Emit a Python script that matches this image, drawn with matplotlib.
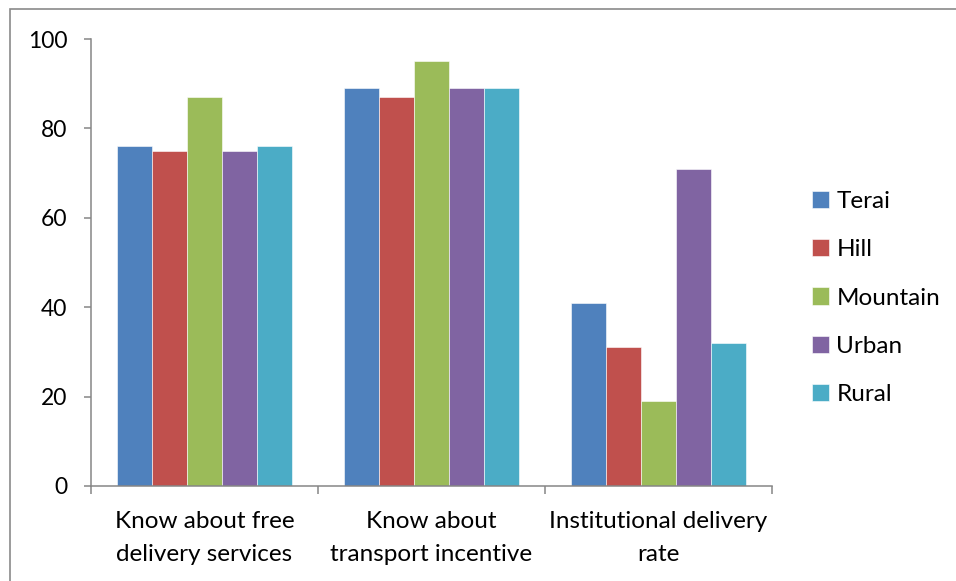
import matplotlib
matplotlib.use("Agg")
import matplotlib.pyplot as plt
from matplotlib.patches import Rectangle
import numpy as np

plt.rcParams["font.family"] = ["Lato", "DejaVu Sans"]

# 数据
categories = ["Know about free\ndelivery services",
              "Know about\ntransport incentive",
              "Institutional delivery\nrate"]
series_names = ["Terai", "Hill", "Mountain", "Urban", "Rural"]
terai = [76, 89, 41]
hill = [75, 87, 31]
mountain = [87, 95, 19]
urban = [75, 89, 71]
rural = [76, 89, 32]
y_ticks = [0, 20, 40, 60, 80, 100]

series_values = [terai, hill, mountain, urban, rural]
colors = ["#4F81BD", "#C0504D", "#9BBB59", "#8064A2", "#4BACC6"]
axis_color = "#868686"
font_size = 17.5

fig = plt.figure(figsize=(9.56, 5.81), dpi=100)
ax = fig.add_axes([91 / 956, 1 - 486 / 581, (772 - 91) / 956, (486 - 39) / 581])

bar_w = 0.154
x = np.arange(len(categories))
n = len(series_names)
for i, (name, vals) in enumerate(zip(series_names, series_values)):
    offset = (i - (n - 1) / 2) * bar_w
    ax.bar(x + offset, vals, width=bar_w, color=colors[i], label=name,
           edgecolor="white", linewidth=0.4, zorder=2)

# 坐标轴：主刻度画在分类边界，分类名放在次刻度上
ax.set_xlim(-0.5, len(categories) - 0.5)
ax.set_ylim(0, 100)
ax.set_yticks(y_ticks)
ax.set_xticks(np.arange(len(categories) + 1) - 0.5)
ax.set_xticklabels([])
ax.set_xticks(x, minor=True)
ax.set_xticklabels(categories, minor=True, fontsize=font_size)
for lbl in ax.get_xticklabels(minor=True):
    lbl.set_linespacing(1.68)
ax.tick_params(axis="x", which="major", length=6, width=1.1, color=axis_color)
ax.tick_params(axis="x", which="minor", length=0, pad=18)
ax.tick_params(axis="y", length=5, width=1.1, color=axis_color,
               labelsize=16.5, pad=12)

for side in ["top", "right"]:
    ax.spines[side].set_visible(False)
for side in ["left", "bottom"]:
    ax.spines[side].set_color(axis_color)
    ax.spines[side].set_linewidth(1.1)

ax.legend(loc="center left", bbox_to_anchor=(812 / 956, 1 - 298 / 581),
          bbox_transform=fig.transFigure, frameon=False, fontsize=font_size,
          handlelength=0.7, handleheight=0.7, handletextpad=0.3,
          labelspacing=1.13, borderpad=0, borderaxespad=0)

# 外框
fig.add_artist(Rectangle((9.5 / 956, -0.05), 1.2, 1 - 8.5 / 581 + 0.05,
                         transform=fig.transFigure, fill=False,
                         edgecolor="#8a8a8a", linewidth=1.2))

fig.savefig("out.png", dpi=100)
